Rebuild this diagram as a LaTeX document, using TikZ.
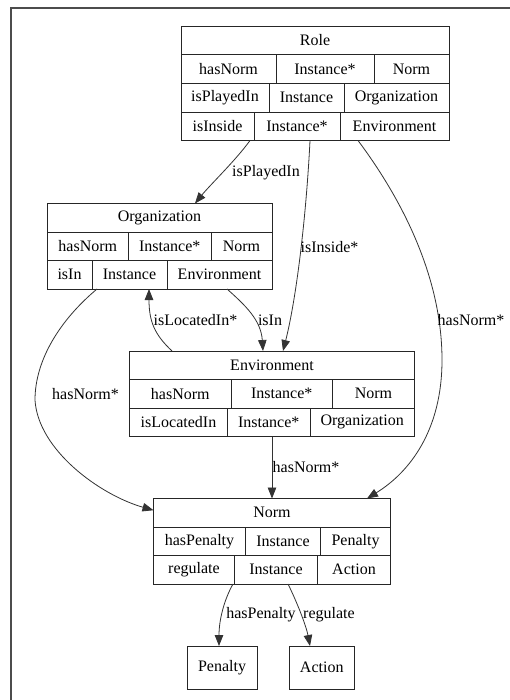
\documentclass[tikz,border=0pt]{standalone}
\usepackage{fontspec}
\setmainfont{Liberation Serif}
\usetikzlibrary{arrows.meta}

\tikzset{
  cellbox/.style={draw=black!85, line width=0.8pt, inner sep=0pt, outer sep=0pt,
    font=\fontsize{16}{19}\selectfont},
  rel/.style={draw=black!80, line width=0.8pt, -{Triangle[length=11pt,width=8.5pt]}},
  lbl/.style={inner sep=0pt, font=\fontsize{16}{19}\selectfont},
  frameline/.style={draw=black!70, line width=1.2pt}
}

% table cell: name, x1, y1, x2, y2, text
\newcommand\tcell[6]{%
  \node[cellbox, minimum width={(#4-#2)*1pt}, minimum height={(#5-#3)*1pt}]
    (#1) at ({(#2+#4)/2},{(#3+#5)/2}) {#6};}

\begin{document}
\begin{tikzpicture}[x=1pt,y=-1pt]
\useasboundingbox (0,0) rectangle (510,700);
\fill[white] (0,0) rectangle (510,700);
\draw[frameline] (11,700) -- (11,8) -- (510,8);

% Role
\tcell{role}{181}{26}{449}{54.5}{Role}
\tcell{rA1}{181}{54.5}{276}{83.5}{hasNorm}
\tcell{rA2}{276}{54.5}{374}{83.5}{Instance*}
\tcell{rA3}{374}{54.5}{449}{83.5}{Norm}
\tcell{rB1}{181}{83.5}{269}{112}{isPlayedIn}
\tcell{rB2}{269}{83.5}{344}{112}{Instance}
\tcell{rB3}{344}{83.5}{449}{112}{Organization}
\tcell{rD1}{181}{112}{254}{140.5}{isInside}
\tcell{rD2}{254}{112}{340}{140.5}{Instance*}
\tcell{rD3}{340}{112}{449}{140.5}{Environment}

% Organization
\tcell{org}{47}{203.5}{272}{232}{Organization}
\tcell{oA1}{47}{232}{128.5}{260.5}{hasNorm}
\tcell{oA2}{128.5}{232}{211}{260.5}{Instance*}
\tcell{oA3}{211}{232}{272}{260.5}{Norm}
\tcell{oA3b}{47}{260.5}{92}{289}{isIn}
\tcell{oB3}{92}{260.5}{167}{289}{Instance}
\tcell{oC3}{167}{260.5}{272}{289}{Environment}

% Environment
\tcell{env}{129.5}{351}{414.5}{379.5}{Environment}
\tcell{eA1}{129.5}{379.5}{231}{408}{hasNorm}
\tcell{eA2}{231}{379.5}{332.5}{408}{Instance*}
\tcell{eA3}{332.5}{379.5}{414.5}{408}{Norm}
\tcell{eB1}{129.5}{408}{227.5}{436.5}{isLocatedIn}
\tcell{eB3}{227.5}{408}{310}{436.5}{Instance*}
\tcell{eC3}{310}{408}{414.5}{436.5}{Organization}

% Norm
\tcell{norm}{153.5}{498.5}{390.5}{527}{Norm}
\tcell{nA1}{153.5}{527}{245.5}{555.5}{hasPenalty}
\tcell{nA2}{245.5}{527}{320.5}{555.5}{Instance}
\tcell{nA3p}{320.5}{527}{390.5}{555.5}{Penalty}
\tcell{nA3}{153.5}{555.5}{234.5}{584}{regulate}
\tcell{nB3}{234.5}{555.5}{317.5}{584}{Instance}
\tcell{nC3}{317.5}{555.5}{390.5}{584}{Action}

% leaf concepts
\tcell{pen}{187}{646}{257}{689.5}{Penalty}
\tcell{act}{289.5}{646}{354}{689.5}{Action}

% relations
\draw[rel] ([xshift=-4pt]rD1.south east) .. controls (236,160) and (210,185) .. ([xshift=35.5pt]org.north)
  node[lbl] (lPlayed) at (266,173) {isPlayedIn};
\draw[rel] ([xshift=13pt]rD2.south) .. controls (306,220) and (296,300) .. ([xshift=11pt]env.north)
  node[lbl] (lInside) at (329.5,247) {isInside*};
\draw[rel] ([xshift=-36.5pt]rD3.south) .. controls (395,190) and (442,270) .. (442,360)
  .. controls (442,430) and (410,472) .. ([xshift=95pt]norm.north)
  node[lbl] (lNormR) at (471,320) {hasNorm*};
\draw[rel] ([xshift=7.5pt]oC3.south) .. controls (245,305) and (261,320) .. ([xshift=-9pt]env.north)
  node[lbl] (lIsIn) at (270,320) {isIn};
\draw[rel] ([xshift=-100pt]env.north) .. controls (155,335) and (149,322) .. ([xshift=19.5pt]oB3.south)
  node[lbl] (lLocated) at (195.5,320) {isLocatedIn*};
\draw[rel] ([xshift=-32.5pt]oB3.south) .. controls (60,320) and (35,360) .. (35,400)
  .. controls (38,450) and (100,495) .. ([yshift=2.5pt]norm.west)
  node[lbl] (lNormL) at (85.5,394) {hasNorm*};
\draw[rel] (norm.north |- eB3.south) -- (norm.north)
  node[lbl] (lNormE) at (306,467) {hasNorm*};
\draw[rel] ([xshift=-1.5pt]nA3.south east) .. controls (224,600) and (219,620) .. ([xshift=-3pt]pen.north)
  node[lbl] (lPenalty) at (261,615) {hasPenalty};
\draw[rel] ([xshift=12pt]nB3.south) .. controls (296,600) and (306,625) .. ([xshift=-11.75pt]act.north)
  node[lbl] (lRegulate) at (329,615) {regulate};
\end{tikzpicture}
\end{document}
